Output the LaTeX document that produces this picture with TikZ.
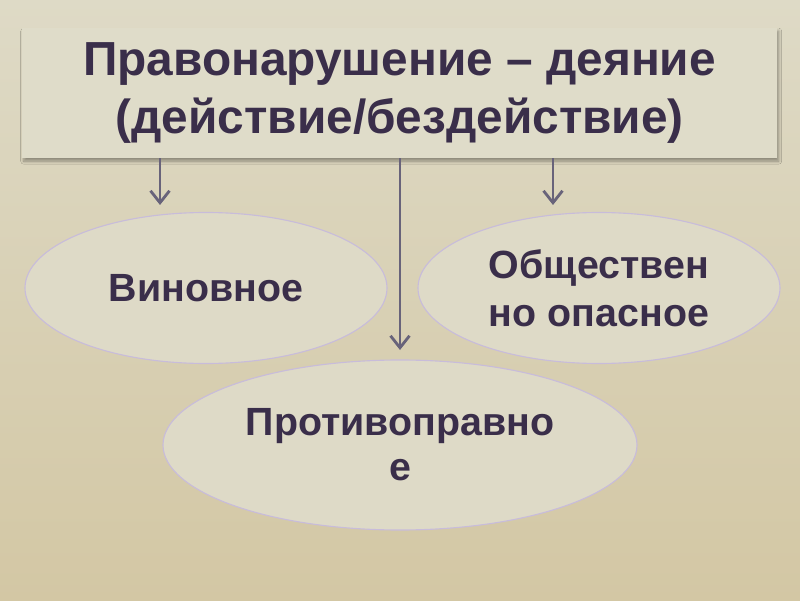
\documentclass[tikz,border=0pt]{standalone}
\usepackage{fontspec}
\setmainfont{Liberation Sans}
\usepackage{xcolor}
\usepackage{tikz}
\usetikzlibrary{shapes.geometric, arrows.meta, shadows.blur}
\definecolor{bgtop}{RGB}{222,218,198}
\definecolor{bgmid}{RGB}{238,234,218}
\definecolor{bgbottom}{RGB}{211,199,164}
\definecolor{boxfill}{RGB}{223,220,201}
\definecolor{ovalfill}{RGB}{222,218,199}
\definecolor{ovalline}{RGB}{200,188,218}
\definecolor{darktext}{RGB}{58,46,74}
\definecolor{arrowgray}{RGB}{104,99,122}

\begin{document}
\begin{tikzpicture}[
    headbox/.style={
        rectangle, fill=boxfill, draw=none,
        minimum width=18.875cm, minimum height=3.25cm,
        align=center, text=darktext,
        font=\fontsize{34}{41.5}\selectfont\bfseries,
        blur shadow={shadow blur steps=6, shadow xshift=0.4mm, shadow yshift=-0.8mm, shadow opacity=35}
    },
    oval/.style={
        ellipse, fill=ovalfill, draw=ovalline, line width=0.8pt,
        minimum width=#1, inner sep=0pt,
        align=center, text=darktext,
        font=\fontsize{28}{34}\selectfont\bfseries
    },
    arrow/.style={-{Straight Barb[length=8.5pt, width=13.5pt]}, line width=2pt, color=arrowgray}
]

% background
\useasboundingbox (0,0) rectangle (20,15);
\shade[top color=bgtop, middle color=bgmid, bottom color=bgbottom] (0,0) rectangle (20,15);

\node[headbox] (title) at (9.99,12.675) {Правонарушение -- деяние\\(действие/бездействие)};

\node[oval=9.05cm, minimum height=3.775cm] (guilty) at (5.15,7.8) {Виновное};
\node[oval=9.05cm, minimum height=3.775cm] (danger) at (14.975,7.8) {Обществен\\но опасное};
\node[oval=11.85cm, minimum height=4.25cm] (unlawful) at (10,3.875) {\raisebox{-2pt}{Противоправно}\\е};

% arrow ends
\coordinate (e1) at (4.0,9.875);
\coordinate (e2) at (10.0,6.25);
\coordinate (e3) at (13.825,9.875);

\draw[arrow] (title.south -| e1) -- (e1);
\draw[arrow] (title.south -| e2) -- (e2);
\draw[arrow] (title.south -| e3) -- (e3);

\end{tikzpicture}
\end{document}
